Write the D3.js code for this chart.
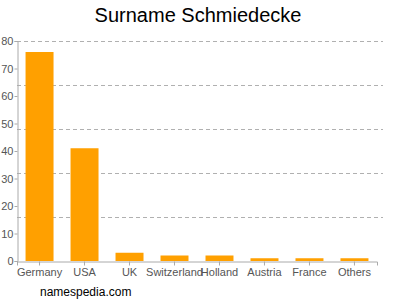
<!DOCTYPE html>
<html>
<head>
<meta charset="utf-8">
<script src="https://cdn.jsdelivr.net/npm/d3@7"></script>
<style>
  body { margin: 0; background: #fff; }
  text { font-family: "Liberation Sans", Arial, sans-serif; }
</style>
</head>
<body>
<script>
var countries = ["Germany", "USA", "UK", "Switzerland", "Holland", "Austria", "France", "Others"]
var counts = [76, 41, 3, 2, 2, 1, 1, 1]
var yTicks = [0, 10, 20, 30, 40, 50, 60, 70, 80]
var gridValues = [16, 32, 48, 64, 80]

var width = 400
var height = 300
var margin = {top: 41, right: 23, bottom: 39, left: 17}

var svg = d3.select("body").append("svg")
    .attr("width", width)
    .attr("height", height);

var x = d3.scaleBand()
    .domain(countries)
    .range([margin.left, width - margin.right])
    .paddingInner(0.378)
    .paddingOuter(0.19);

var y = d3.scaleLinear()
    .domain([0, 80])
    .range([height - margin.bottom, margin.top]);

// title
svg.append("text")
    .attr("x", 198)
    .attr("y", 22)
    .attr("text-anchor", "middle")
    .attr("font-size", 20)
    .attr("fill", "#000")
    .text("Surname Schmiedecke");

// dashed grid
svg.append("g")
    .selectAll("line")
    .data(gridValues)
    .enter().append("line")
    .attr("x1", margin.left)
    .attr("x2", 383)
    .attr("y1", function(d) { return Math.round(y(d)) + 0.5; })
    .attr("y2", function(d) { return Math.round(y(d)) + 0.5; })
    .attr("stroke", "#b0b0b0")
    .attr("stroke-dasharray", "4,3");

// bars
svg.append("g")
    .selectAll("rect")
    .data(countries)
    .enter().append("rect")
    .attr("x", function(d) { return x(d); })
    .attr("width", x.bandwidth())
    .attr("y", function(d, i) { return y(counts[i]); })
    .attr("height", function(d, i) { return y(0) - y(counts[i]); })
    .attr("fill", "#ffa000");

// y axis
var yAxis = svg.append("g")
    .attr("transform", "translate(" + (margin.left + 0.5) + ",0)")
    .call(d3.axisLeft(y).tickValues(yTicks).tickSize(3).tickPadding(1));

// x axis
var xAxis = svg.append("g")
    .attr("transform", "translate(0," + (y(0) + 0.5) + ")")
    .call(d3.axisBottom(x).tickSize(4).tickPadding(3));

[yAxis, xAxis].forEach(function(ax) {
  ax.select(".domain").attr("stroke", "#aaa");
  ax.selectAll(".tick line").attr("stroke", "#aaa");
  ax.selectAll(".tick text")
      .attr("fill", "#555")
      .attr("font-size", 11)
      .attr("font-family", "Liberation Sans, Arial, sans-serif");
});

// footer
svg.append("text")
    .attr("x", 40)
    .attr("y", 296)
    .attr("font-size", 12)
    .attr("fill", "#000")
    .text("namespedia.com");
</script>
</body>
</html>
